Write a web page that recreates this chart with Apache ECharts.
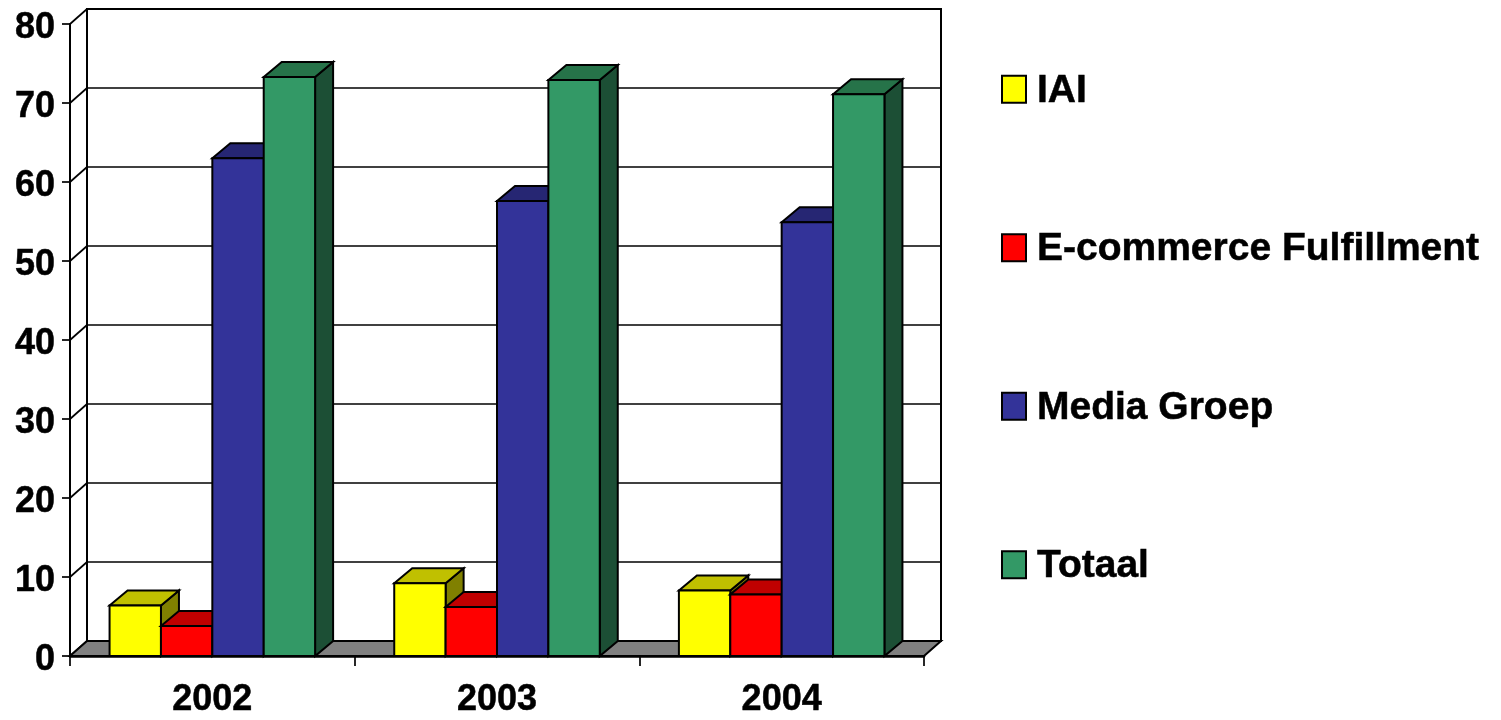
<!DOCTYPE html>
<html><head><meta charset="utf-8">
<style>html,body{margin:0;padding:0;background:#fff}#c{width:1501px;height:720px}</style>
<script src="https://cdn.jsdelivr.net/npm/echarts@6/dist/echarts.min.js"></script>
</head><body><div id="c"></div>
<script>
const years = ['2002','2003','2004'];
const yTicks = [0,10,20,30,40,50,60,70,80];
const iai = [6.4,9.2,8.3];
const ecommerce = [3.8,6.2,7.8];
const mediaGroep = [63,57.6,54.9];
const totaal = [73.3,72.9,71.1];
const names = ['IAI','E-commerce Fulfillment','Media Groep','Totaal'];
const front = ['#FFFF00','#FF0000','#333399','#339966'];
const top3d = ['#C0C000','#C00000','#262673','#267349'];
const side = ['#808000','#800000','#1A1A4D','#1C4F35'];
const DX = 17, DY = -15, BAR_DX = 18, LINE = 2, BAR_FRAC = 0.1805;
const font = '"Liberation Sans", Arial, sans-serif';
const txt = {fontFamily:font, fontWeight:'bold', color:'#000', textBorderColor:'#000', textBorderWidth:0.5};

function poly(points, fill, lw){
  return {type:'polygon', shape:{points}, style:{fill, stroke:'#000', lineWidth:lw||LINE, lineJoin:'miter'}};
}
function barSeries(idx, values){
  return {
    type:'custom', name:names[idx], xAxisIndex:0, yAxisIndex:0, z:5, clip:false, silent:true,
    itemStyle:{color:front[idx], borderColor:'#000'},
    data: values.map((v,i)=>[i,v]), encode:{x:0,y:1},
    renderItem(params, api){
      const c = api.coord([api.value(0), api.value(1)]);
      const base = api.coord([api.value(0), 0]);
      const w = api.size([1,0])[0] * BAR_FRAC;
      const x0 = base[0] - 2*w + idx*w, x1 = x0 + w, yT = c[1], yB = base[1];
      return {type:'group', children:[
        poly([[x1,yT],[x1+BAR_DX,yT+DY],[x1+BAR_DX,yB+DY],[x1,yB]], side[idx]),
        poly([[x0,yT],[x0+BAR_DX,yT+DY],[x1+BAR_DX,yT+DY],[x1,yT]], top3d[idx]),
        poly([[x0,yT],[x1,yT],[x1,yB],[x0,yB]], front[idx])
      ]};
    }
  };
}
const floorSeries = {
  type:'custom', xAxisIndex:0, yAxisIndex:0, z:3, clip:false, silent:true, data:[[0,0]], encode:{x:0,y:1},
  renderItem(params){
    const g = params.coordSys, yB = g.y+g.height, xL = g.x, xR = g.x+g.width;
    return poly([[xL,yB],[xL+DX,yB+DY],[xR+DX,yB+DY],[xR,yB]], '#808080', 2);
  }
};
const wallSeries = {
  type:'custom', xAxisIndex:0, yAxisIndex:0, z:2, clip:false, silent:true,
  data:yTicks.map(t=>[0,t]), encode:{x:0,y:1},
  renderItem(params, api){
    const g = params.coordSys, y = api.coord([0, api.value(1)])[1];
    return {type:'line', shape:{x1:g.x,y1:y,x2:g.x+DX,y2:y+DY}, style:{stroke:'#000',lineWidth:1.7}};
  }
};
const chart = echarts.init(document.getElementById('c'), null, {renderer:'canvas'});
chart.setOption({
  animation:false, backgroundColor:'#fff',
  legend:{
    orient:'vertical', left:1001, top:71, padding:0, itemWidth:24, itemHeight:27, itemGap:119, icon:'rect',
    selectedMode:false, formatter:'{a|{name}}',
    data:names.map((n,i)=>({name:n, itemStyle:{color:front[i], borderColor:'#000', borderWidth:2}})),
    textStyle:{...txt, fontSize:39, padding:[0,0,0,6],
      rich:{a:{...txt, fontSize:39, padding:[3,0,0,0]}}}
  },
  grid:[
    {left:70, width:854, top:24, height:632},
    {left:70+DX, width:854, top:24+DY, height:632, show:true, borderColor:'#000', borderWidth:2, backgroundColor:'#fff'}
  ],
  xAxis:[
    {type:'category', gridIndex:0, data:years, boundaryGap:true, z:8,
     axisLine:{lineStyle:{color:'#000',width:2.5}}, axisTick:{show:true,length:10,alignWithLabel:false,lineStyle:{color:'#000',width:1.7}},
     axisLabel:{...txt,fontSize:36,margin:26}},
    {type:'category', gridIndex:1, data:years, axisLine:{show:false}, axisTick:{show:false}, axisLabel:{show:false}}
  ],
  yAxis:[
    {type:'value', gridIndex:0, min:0, max:80, interval:10, splitLine:{show:false}, z:8,
     axisLine:{show:true,lineStyle:{color:'#000',width:2}}, axisTick:{show:true,length:8,lineStyle:{color:'#000',width:1.7}},
     axisLabel:{...txt,fontSize:36,margin:15,formatter:v=>'{a|'+v+'}',rich:{a:{...txt,fontSize:36,padding:[8,0,0,0]}}}},
    {type:'value', gridIndex:1, min:0, max:80, interval:10, axisLine:{show:false}, axisTick:{show:false}, axisLabel:{show:false},
     splitLine:{show:true,lineStyle:{color:'#000',width:1.7}}}
  ],
  series:[wallSeries, floorSeries, barSeries(0,iai), barSeries(1,ecommerce), barSeries(2,mediaGroep), barSeries(3,totaal)]
});
</script></body></html>
